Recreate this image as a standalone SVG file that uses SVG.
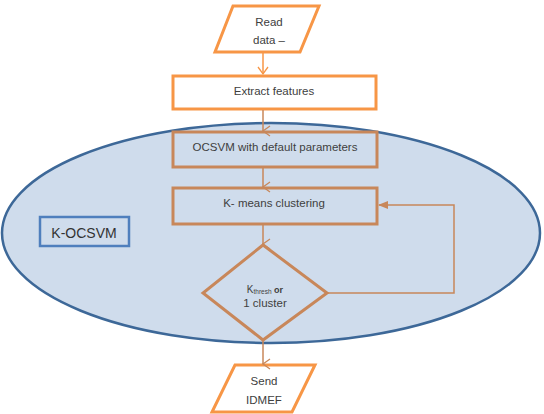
<svg xmlns="http://www.w3.org/2000/svg" width="544" height="414" viewBox="0 0 544 414">
<defs>
<style>
.out{fill:#ffffff;stroke:#f79646;stroke-width:3}
.in{fill:none;stroke:#c8875a;stroke-width:3}
.t{font-family:"Liberation Sans",Arial,sans-serif;font-size:11.5px;fill:#404040;text-anchor:middle}
.c{fill:none;stroke:#c8875a;stroke-width:1.5}
.co{fill:none;stroke:#f79646;stroke-width:1.5}
</style>
<marker id="v" markerWidth="12" markerHeight="12" refX="6" refY="10" orient="auto-start-reverse" markerUnits="userSpaceOnUse" viewBox="0 0 12 12">
<path d="M1,3 L6,10 L11,3" fill="none" stroke="#c8875a" stroke-width="1.3"/>
</marker>
<marker id="vo" markerWidth="12" markerHeight="12" refX="6" refY="10" markerUnits="userSpaceOnUse" viewBox="0 0 12 12">
<path d="M1,3 L6,10 L11,3" fill="none" stroke="#f79646" stroke-width="1.3"/>
</marker>
<marker id="tri" markerWidth="12" markerHeight="12" refX="10" refY="6" orient="auto" markerUnits="userSpaceOnUse" viewBox="0 0 12 12">
<path d="M1,2 L11,6 L1,10 Z" fill="#c8875a"/>
</marker>
</defs>
<g id="read-data">
<polygon class="out" points="233,6 319,6 300,52 215,52"/>
<text class="t" x="269" y="26">Read</text>
<text class="t" x="269" y="44">data –</text>
</g>
<g id="extract-features">
<rect class="out" x="173" y="76" width="203" height="33"/>
<text class="t" x="274" y="95">Extract features</text>
</g>
<g id="k-ocsvm-region">
<ellipse cx="271" cy="233" rx="269" ry="110" fill="#cfdcec" stroke="#3d6898" stroke-width="2.5"/>
</g>
<g id="k-ocsvm-label">
<rect x="40" y="217" width="89" height="29" fill="#cfdcec" stroke="#4f7fbd" stroke-width="2.5"/>
<text x="84" y="238" font-family="Liberation Sans,Arial,sans-serif" font-size="14" fill="#333" text-anchor="middle">K-OCSVM</text>
</g>
<g id="ocsvm">
<rect class="in" x="173" y="132" width="204" height="35"/>
<text class="t" x="275" y="151">OCSVM with default parameters</text>
</g>
<g id="kmeans">
<rect class="in" x="173" y="188" width="204" height="36"/>
<text class="t" x="274" y="207">K- means clustering</text>
</g>
<g id="decision">
<polygon class="in" points="263,245 327,293 263,340 203,293"/>
<text x="265" y="293" font-family="Liberation Sans,Arial,sans-serif" fill="#404040" text-anchor="middle"><tspan font-size="10">K</tspan><tspan font-size="6.5" dy="1">thresh</tspan><tspan font-size="9" font-weight="bold" dy="-1"> or</tspan></text>
<text class="t" x="265" y="307" font-size="11">1 cluster</text>
</g>
<g id="send-idmef">
<polygon class="out" points="235,365 315,365 292,412 212,412"/>
<text class="t" x="264" y="385">Send</text>
<text class="t" x="264" y="404">IDMEF</text>
</g>
<g id="connectors">
<line class="co" x1="263" y1="53" x2="263" y2="74" marker-end="url(#vo)"/>
<line class="c" x1="263" y1="110" x2="263" y2="131" marker-end="url(#v)"/>
<line class="c" x1="263" y1="168" x2="263" y2="187" marker-end="url(#v)"/>
<line class="c" x1="263" y1="225" x2="263" y2="244" marker-end="url(#v)"/>
<line class="c" x1="263" y1="341" x2="263" y2="364" marker-end="url(#v)"/>
<polyline class="c" points="327,293 454,293 454,205 379,205" marker-end="url(#tri)"/>
</g>
</svg>
